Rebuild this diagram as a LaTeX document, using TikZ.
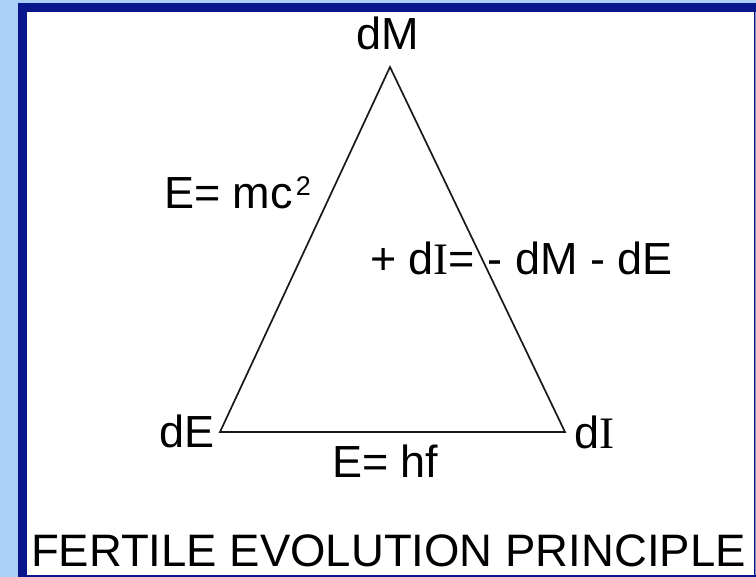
\documentclass[tikz,border=0pt]{standalone}
\usepackage{fontspec}
\setmainfont{Liberation Sans}
\newfontfamily\serifI{Liberation Serif}
\definecolor{bgblue}{RGB}{170,208,250}
\definecolor{frameblue}{RGB}{10,22,140}
\definecolor{rimgray}{RGB}{125,138,190}
\begin{document}
\begin{tikzpicture}[x=1pt,y=-1pt,
  lbl/.style={inner sep=0pt,outer sep=0pt,font=\fontsize{45}{45}\selectfont,text=black},
  edge/.style={line width=1.7pt,draw=black!90,line join=miter}]
\useasboundingbox (0,0) rectangle (756,577);
% background and frame
\fill[bgblue] (0,0) rectangle (756,577);
\fill[frameblue] (18,3) rectangle (756,577);
\fill[white] (27,12) rectangle (754,575);
\draw[rimgray,line width=1pt] (755,12) -- (755,575);
% triangle corners
\coordinate (M) at (390,67);
\coordinate (E) at (220,432);
\coordinate (I) at (565,432);
\draw[edge] (M) -- (E) -- (I) -- cycle;
% corner labels
\node[lbl,anchor=base] (lM) at (388,50) {dM};
\node[lbl,anchor=base west] (lE) at (159,448) {dE};
\node[lbl,anchor=base west] (lI) at (574,449) {d{\serifI I}};
% edge labels
\node[lbl,anchor=base west] (mc) at (164,209) {E= mc\kern3pt\raisebox{13pt}{\fontsize{27}{27}\selectfont 2}};
\node[lbl,anchor=base west] (rel) at (370,275) {+ d{\serifI I}= - dM - dE};
\node[lbl,anchor=base west] (hf) at (332,478) {E= hf};
% title
\node[lbl,anchor=base west,font=\fontsize{45.5}{45.5}\selectfont] (title) at (31,567) {FERTILE EVOLUTION PRINCIPLE};
\end{tikzpicture}
\end{document}
